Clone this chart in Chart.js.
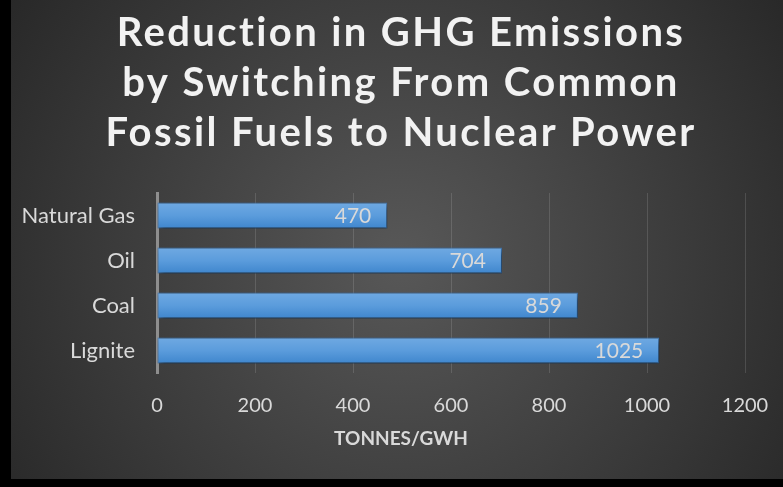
<!DOCTYPE html>
<html><head><meta charset="utf-8">
<script src="https://cdn.jsdelivr.net/npm/chart.js@4.4.1/dist/chart.umd.min.js"></script>
<style>html,body{margin:0;padding:0;background:#000;overflow:hidden}#wrap{width:783px;height:487px}</style>
</head><body><div id="wrap"><canvas id="c" width="783" height="487"></canvas></div>
<script>
const categories = ['Natural Gas', 'Oil', 'Coal', 'Lignite'];
const values = [470, 704, 859, 1025];
const xTicks = [0, 200, 400, 600, 800, 1000, 1200];
const titleLines = ['Reduction in GHG Emissions', 'by Switching From Common', 'Fossil Fuels to Nuclear Power'];
const xTitle = 'TONNES/GWH';

const TEXT = '#d9d9d9';
const FONT = "Lato, 'Open Sans', sans-serif";

const bgPlugin = {
  id: 'bg',
  beforeDraw(chart) {
    const ctx = chart.ctx;
    ctx.save();
    ctx.fillStyle = '#000';
    ctx.fillRect(0, 0, chart.width, chart.height);
    const g = ctx.createRadialGradient(400, 260, 0, 400, 260, 520);
    g.addColorStop(0, '#585858');
    g.addColorStop(1, '#232323');
    ctx.fillStyle = g;
    ctx.fillRect(11, 0, chart.width - 11, 479);
    ctx.restore();
  }
};

const spacingPlugin = {
  id: 'titleSpacing',
  afterInit(chart) {
    const tb = chart.titleBlock;
    if (!tb) return;
    const orig = tb.draw;
    tb.draw = function () {
      const ctx = this.ctx;
      ctx.save();
      ctx.translate(23, 0);
      ctx.letterSpacing = '2.4px';
      orig.apply(this, arguments);
      ctx.restore();
    };
  },
  beforeDraw(chart) {
    const sx = chart.scales.x;
    if (sx && !sx._patched) {
      const orig = sx.drawTitle;
      sx.drawTitle = function () {
        const ctx = this.ctx;
        ctx.save();
        ctx.translate(-50, 0);
        orig.apply(this, arguments);
        ctx.restore();
      };
      sx._patched = true;
    }
  }
};

const shadowPlugin = {
  id: 'barShadow',
  beforeDatasetDraw(chart) {
    const ctx = chart.ctx;
    ctx.save();
    ctx.shadowColor = 'rgba(0,0,0,0.55)';
    ctx.shadowBlur = 5;
    ctx.shadowOffsetX = 2;
    ctx.shadowOffsetY = 3;
  },
  afterDatasetDraw(chart) {
    chart.ctx.restore();
  }
};

const labelPlugin = {
  id: 'valueLabels',
  afterDatasetsDraw(chart) {
    const ctx = chart.ctx;
    const meta = chart.getDatasetMeta(0);
    ctx.save();
    ctx.font = '21px ' + FONT;
    ctx.fillStyle = TEXT;
    ctx.textAlign = 'right';
    ctx.textBaseline = 'middle';
    meta.data.forEach((bar, i) => {
      ctx.fillText(String(values[i]), bar.x - 16, bar.y + 1);
    });
    ctx.restore();
  }
};

function barFill(c) {
  const chart = c.chart;
  const ys = chart.scales && chart.scales.y;
  if (!chart.chartArea || !ys || c.dataIndex === undefined) return '#5b9bd5';
  const y = ys.getPixelForValue(c.dataIndex);
  const g = chart.ctx.createLinearGradient(0, y - 13, 0, y + 13);
  g.addColorStop(0, '#6fa9e2');
  g.addColorStop(0.5, '#5b9cdc');
  g.addColorStop(1, '#3f86cd');
  return g;
}

new Chart(document.getElementById('c'), {
  type: 'bar',
  data: {
    labels: categories,
    datasets: [{
      data: values,
      backgroundColor: barFill,
      borderColor: '#3b74b2',
      borderWidth: 1,
      borderSkipped: false,
      barPercentage: 26 / 45,
      categoryPercentage: 1
    }]
  },
  options: {
    indexAxis: 'y',
    responsive: false,
    animation: false,
    devicePixelRatio: 1,
    layout: { padding: { left: 11, right: 38, top: 0, bottom: 27 } },
    plugins: {
      legend: { display: false },
      tooltip: { enabled: false },
      title: {
        display: true,
        text: titleLines,
        color: '#f2f2f2',
        font: { family: FONT, size: 40, weight: 'bold', lineHeight: 50 / 40 },
        padding: { top: 8, bottom: 35 }
      }
    },
    scales: {
      x: {
        min: 0, max: 1200,
        afterBuildTicks(s) { s.ticks = xTicks.map(v => ({ value: v })); },
        afterFit(s) { s.height = 87; },
        grid: { color: 'rgba(255,255,255,0.13)', lineWidth: 1, drawTicks: true, tickLength: 20, tickColor: 'rgba(0,0,0,0)' },
        border: { display: false },
        ticks: { color: TEXT, font: { family: FONT, size: 20 }, padding: 1, maxRotation: 0, callback: v => String(v) },
        title: { display: true, text: xTitle, color: TEXT, font: { family: FONT, size: 19, weight: 'bold' }, padding: { top: 10, bottom: 10 } }
      },
      y: {
        afterFit(s) { s.width = 146; },
        grid: { display: false, drawTicks: false },
        border: { display: true, color: '#8e8e8e', width: 3 },
        ticks: { color: TEXT, font: { family: FONT, size: 22 }, padding: 22 }
      }
    }
  },
  plugins: [bgPlugin, spacingPlugin, shadowPlugin, labelPlugin]
});
</script>
</body></html>
